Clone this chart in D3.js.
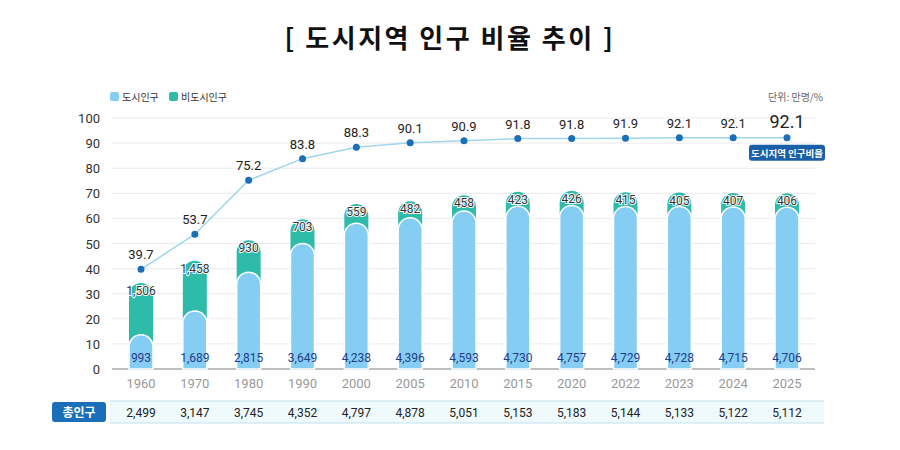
<!DOCTYPE html>
<html><head><meta charset="utf-8">
<script src="https://cdn.jsdelivr.net/npm/d3@7"></script>
<style>body{margin:0;background:#fff;font-family:"Noto Sans CJK KR","Noto Sans",sans-serif}</style>
</head><body><div id="chart"></div>
<script>
// data
var years = ["1960","1970","1980","1990","2000","2005","2010","2015","2020","2022","2023","2024","2025"];
var urban = [993,1689,2815,3649,4238,4396,4593,4730,4757,4729,4728,4715,4706];
var rural = [1506,1458,930,703,559,482,458,423,426,415,405,407,406];
var total = [2499,3147,3745,4352,4797,4878,5051,5153,5183,5144,5133,5122,5112];
var ratio = [39.7,53.7,75.2,83.8,88.3,90.1,90.9,91.8,91.8,91.9,92.1,92.1,92.1];
var yTicks = [0,10,20,30,40,50,60,70,80,90,100];

var W = 900, H = 450;
var svg = d3.select("#chart").append("svg").attr("width", W).attr("height", H);

svg.append("text").attr("x", 450).attr("y", 48).attr("text-anchor", "middle")
  .attr("font-size", 26).attr("font-weight", 700).attr("fill", "#111")
  .attr("letter-spacing", 2.5).text("[ 도시지역 인구 비율 추이 ]");

var x = d3.scalePoint().domain(years).range([141, 787]);
var y = d3.scaleLinear().domain([0, 100]).range([369, 118]);
// population drawn on the same axis
var yp = d3.scaleLinear().domain([0, 7300]).range([369, 118]);

// grid
svg.append("g").selectAll("line").data(yTicks.slice(1)).enter().append("line")
  .attr("x1", 112).attr("x2", 815)
  .attr("y1", function(d){ return y(d); }).attr("y2", function(d){ return y(d); })
  .attr("stroke", "#eaeaea");
svg.append("g").selectAll("text").data(yTicks).enter().append("text")
  .attr("x", 100).attr("y", function(d){ return y(d) + 5; })
  .attr("text-anchor", "end").attr("font-size", 13).attr("fill", "#333")
  .attr("font-family", "Roboto, sans-serif").text(function(d){ return d; });
svg.append("line").attr("x1", 112).attr("x2", 815).attr("y1", 369).attr("y2", 369)
  .attr("stroke", "#aaa").attr("stroke-width", 1.5);
svg.append("g").selectAll("text").data(years).enter().append("text")
  .attr("x", function(d){ return x(d); }).attr("y", 388).attr("text-anchor", "middle")
  .attr("font-size", 13).attr("fill", "#999").attr("font-family", "Roboto, sans-serif")
  .text(function(d){ return d; });

// legend
svg.append("rect").attr("x", 110).attr("y", 92).attr("width", 9).attr("height", 9).attr("rx", 2).attr("fill", "#86cdf3");
svg.append("text").attr("x", 122).attr("y", 101).attr("font-size", 10).attr("fill", "#333").text("도시인구");
svg.append("rect").attr("x", 169).attr("y", 92).attr("width", 9).attr("height", 9).attr("rx", 2).attr("fill", "#2fbba9");
svg.append("text").attr("x", 181).attr("y", 101).attr("font-size", 10).attr("fill", "#333").text("비도시인구");
svg.append("text").attr("x", 823).attr("y", 101).attr("text-anchor", "end").attr("font-size", 10).attr("fill", "#666").text("단위: 만명/%");

// bars with rounded tops
var bw = 24;
function bar(cx, top, bottom) {
  var r = bw / 2, l = cx - r, rt = cx + r;
  return "M" + l + "," + bottom + "L" + l + "," + (top + r) +
    "A" + r + "," + r + " 0 0 1 " + rt + "," + (top + r) + "L" + rt + "," + bottom + "Z";
}
var bars = svg.append("g");
years.forEach(function(yr, i) {
  bars.append("path").attr("d", bar(x(yr), yp(total[i]), 369)).attr("fill", "#2fbba9");
  bars.append("path").attr("d", bar(x(yr), yp(urban[i]), 369)).attr("fill", "#86cdf3")
    .attr("stroke", "#fff").attr("stroke-width", 1.5);
});
var fmt = d3.format(",");
svg.append("g").selectAll("text").data(years).enter().append("text")
  .attr("x", function(d){ return x(d); }).attr("y", 362).attr("text-anchor", "middle")
  .attr("font-size", 12).attr("fill", "#1f3c88").attr("font-family", "Roboto, sans-serif")
  .text(function(d, i){ return fmt(urban[i]); });
svg.append("g").selectAll("text").data(years).enter().append("text")
  .attr("x", function(d){ return x(d); }).attr("y", function(d, i){ return yp(total[i]) + 12; })
  .attr("text-anchor", "middle").attr("font-size", 12).attr("fill", "#333")
  .attr("font-family", "Roboto, sans-serif").attr("stroke", "#fff").attr("stroke-width", 2)
  .attr("paint-order", "stroke")
  .text(function(d, i){ return fmt(rural[i]); });

// ratio line
var line = d3.line().x(function(d, i){ return x(years[i]); }).y(function(d){ return y(d); });
svg.append("path").datum(ratio).attr("d", line).attr("fill", "none")
  .attr("stroke", "#9fd6ee").attr("stroke-width", 1.5);
svg.append("g").selectAll("circle").data(ratio).enter().append("circle")
  .attr("cx", function(d, i){ return x(years[i]); }).attr("cy", function(d){ return y(d); })
  .attr("r", 3.5).attr("fill", "#1a6fb8");
svg.append("g").selectAll("text").data(ratio).enter().append("text")
  .attr("x", function(d, i){ return x(years[i]); }).attr("y", function(d){ return y(d) - 10; })
  .attr("text-anchor", "middle").attr("font-family", "Roboto, sans-serif")
  .attr("font-size", function(d, i){ return i === ratio.length - 1 ? 18 : 13; })
  .attr("fill", "#222").text(function(d){ return d.toFixed(1); });
var lx = x(years[years.length - 1]);
svg.append("rect").attr("x", lx - 38).attr("y", y(92.1) + 7).attr("width", 76).attr("height", 16)
  .attr("rx", 3).attr("fill", "#1a5fa8");
svg.append("text").attr("x", lx).attr("y", y(92.1) + 19).attr("text-anchor", "middle")
  .attr("font-size", 9.5).attr("font-weight", 700).attr("fill", "#fff").text("도시지역 인구비율");

// total row
svg.append("rect").attr("x", 110).attr("y", 401).attr("width", 714).attr("height", 22)
  .attr("fill", "#effafd");
svg.append("line").attr("x1", 110).attr("x2", 824).attr("y1", 401).attr("y2", 401).attr("stroke", "#bfe3ef");
svg.append("line").attr("x1", 110).attr("x2", 824).attr("y1", 423).attr("y2", 423).attr("stroke", "#bfe3ef");
svg.append("rect").attr("x", 52).attr("y", 402).attr("width", 54).attr("height", 20).attr("rx", 3).attr("fill", "#1a6fb8");
svg.append("text").attr("x", 79).attr("y", 417).attr("text-anchor", "middle").attr("font-size", 12)
  .attr("font-weight", 700).attr("fill", "#fff").text("총인구");
svg.append("g").selectAll("text").data(years).enter().append("text")
  .attr("x", function(d){ return x(d); }).attr("y", 417).attr("text-anchor", "middle")
  .attr("font-size", 12).attr("fill", "#222").attr("font-family", "Roboto, sans-serif")
  .text(function(d, i){ return fmt(total[i]); });
</script></body></html>
